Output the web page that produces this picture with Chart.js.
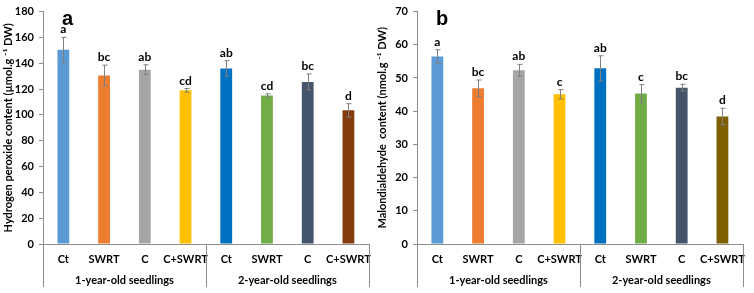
<!DOCTYPE html>
<html>
<head>
<meta charset="utf-8">
<script src="https://cdn.jsdelivr.net/npm/chart.js@4.4.1/dist/chart.umd.min.js"></script>
<style>
  body { margin: 0; background: #fff; }
  #wrap { position: relative; width: 754px; height: 293px; }
  canvas { position: absolute; top: 0; background: #fff; }
  #chartA { left: 0; }
  #chartB { left: 374px; }
</style>
</head>
<body>
<div id="wrap">
  <canvas id="chartA" width="380" height="293"></canvas>
  <canvas id="chartB" width="380" height="293"></canvas>
</div>
<script>
// Data
const categories = ['Ct', 'SWRT', 'C', 'C+SWRT', 'Ct', 'SWRT', 'C', 'C+SWRT'];
const groups = ['1-year-old seedlings', '2-year-old seedlings'];

const h2o2Values = [150.5, 130.5, 135, 119, 136, 115, 125.5, 103.5];
const h2o2Errors = [9.5, 8, 3.8, 1.4, 6, 1.3, 6.2, 5.2];
const h2o2Letters = ['a', 'bc', 'ab', 'cd', 'ab', 'cd', 'bc', 'd'];

const mdaValues = [56.5, 46.9, 52.3, 45.1, 52.9, 45.3, 47.1, 38.4];
const mdaErrors = [2, 2.5, 1.8, 1.4, 3.8, 2.7, 1.0, 2.5];
const mdaLetters = ['a', 'bc', 'ab', 'c', 'ab', 'c', 'bc', 'd'];

const colorsA = ['#5B9BD5', '#ED7D31', '#A5A5A5', '#FFC000', '#0070C0', '#70AD47', '#44546A', '#843C0C'];
const colorsB = ['#5B9BD5', '#ED7D31', '#A5A5A5', '#FFC000', '#0070C0', '#70AD47', '#44546A', '#7F6000'];

const FONT = 'Lato';
const axisColor = '#8c8c8c';

// error bars, significance letters, group labels and separators
const extras = {
    id: 'extras',
    afterDatasetsDraw(chart, args, opts) {
        const { ctx, chartArea, scales: { x, y } } = chart;
        const vals = chart.data.datasets[0].data;

        ctx.save();
        // error bars
        ctx.strokeStyle = '#7f7f7f';
        ctx.lineWidth = 1;
        vals.forEach((v, i) => {
            const px = Math.round(x.getPixelForValue(i)) + 0.5;
            const top = y.getPixelForValue(v + opts.errors[i]);
            const bot = y.getPixelForValue(v - opts.errors[i]);
            ctx.beginPath();
            ctx.moveTo(px, top); ctx.lineTo(px, bot);
            ctx.moveTo(px - 2, top); ctx.lineTo(px + 3, top);
            ctx.moveTo(px - 2, bot); ctx.lineTo(px + 3, bot);
            ctx.stroke();
        });

        // letters
        ctx.fillStyle = '#000';
        ctx.font = `bold 12px ${FONT}`;
        ctx.textAlign = 'center';
        ctx.textBaseline = 'alphabetic';
        vals.forEach((v, i) => {
            const px = x.getPixelForValue(i);
            const top = y.getPixelForValue(v + opts.errors[i]);
            ctx.fillText(opts.letters[i], px, top - 4);
        });

        // multi-level axis separators
        ctx.strokeStyle = axisColor;
        const mid = (x.getPixelForValue(3) + x.getPixelForValue(4)) / 2;
        [chartArea.left, mid, chartArea.right].forEach(lx => {
            const xx = Math.round(lx) + 0.5;
            ctx.beginPath();
            ctx.moveTo(xx, chartArea.bottom);
            ctx.lineTo(xx, chartArea.bottom + 43);
            ctx.stroke();
        });

        // group labels
        ctx.font = `bold 11px ${FONT}`;
        ctx.fillStyle = '#000';
        groups.forEach((g, k) => {
            const cx = (x.getPixelForValue(k * 4) + x.getPixelForValue(k * 4 + 3)) / 2;
            ctx.fillText(g, cx, chartArea.bottom + 40);
        });

        // panel letter
        ctx.font = 'bold 20px "Liberation Sans"';
        ctx.textAlign = 'left';
        ctx.fillText(opts.panel, chartArea.left + 19, 25);
        ctx.restore();
    }
};

function makeChart(id, values, colors, errors, letters, panel, maxY, step, title) {
    return new Chart(document.getElementById(id), {
        type: 'bar',
        data: {
            labels: categories,
            datasets: [{
                data: values,
                backgroundColor: colors,
                categoryPercentage: 1,
                barPercentage: 0.29
            }]
        },
        options: {
            responsive: false,
            animation: false,
            layout: { padding: { top: 11, right: 4, left: 0, bottom: 0 } },
            plugins: {
                legend: { display: false },
                tooltip: { enabled: false },
                extras: { errors: errors, letters: letters, panel: panel }
            },
            scales: {
                x: {
                    grid: { display: false, drawTicks: false },
                    border: { display: true, color: axisColor },
                    ticks: {
                        color: '#000',
                        padding: 9,
                        maxRotation: 0,
                        autoSkip: false,
                        font: { family: FONT, size: 11, weight: 'bold' }
                    },
                    afterFit: s => { s.height = 49; }
                },
                y: {
                    min: 0,
                    max: maxY,
                    grid: { drawOnChartArea: false, drawTicks: true, tickLength: 4, color: axisColor },
                    border: { display: true, color: axisColor },
                    ticks: {
                        stepSize: step,
                        color: '#000',
                        padding: 5,
                        font: { family: FONT, size: 11, weight: 'bold' }
                    },
                    title: {
                        display: true,
                        text: title,
                        color: '#000',
                        padding: { top: 2, bottom: 0 },
                        font: { family: FONT, size: 11, weight: 'bold' }
                    },
                    afterFit: s => { s.width = 43; }
                }
            }
        },
        plugins: [extras]
    });
}

makeChart('chartA', h2o2Values, colorsA, h2o2Errors, h2o2Letters, 'a', 180, 20,
    'Hydrogen peroxide content (\u00b5mol.g \u207b\u00b9 DW)');
makeChart('chartB', mdaValues, colorsB, mdaErrors, mdaLetters, 'b', 70, 10,
    'Malondialdehyde  content (nmol.g \u207b\u00b9 DW)');
</script>
</body>
</html>
